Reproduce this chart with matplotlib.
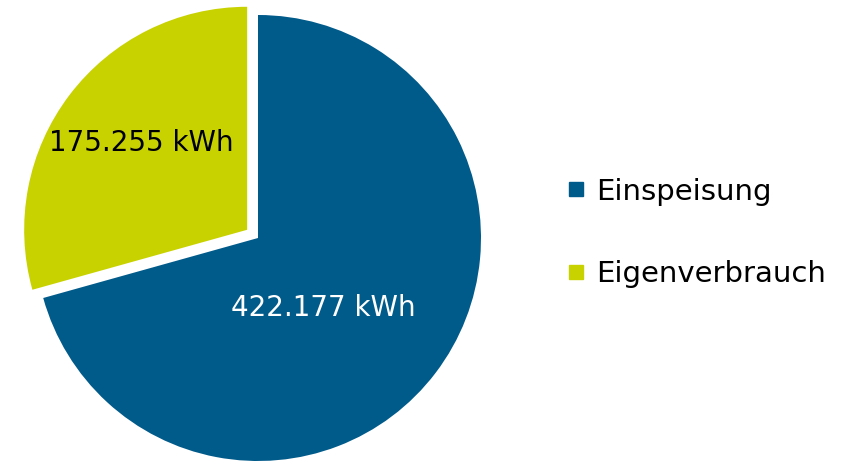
import matplotlib
matplotlib.use("Agg")
import matplotlib.pyplot as plt
from matplotlib.lines import Line2D

# --- Daten ---
labels = ["Einspeisung", "Eigenverbrauch"]
values = [422177, 175255]
colors = ["#005A8A", "#C8D200"]
text_colors = ["white", "black"]
explode = [0, 13.6]   # absolute Verschiebung (Pixel), da radius in Pixeln

plt.rcParams['font.family'] = ['DejaVu Sans']

W, H = 866, 461
fig = plt.figure(figsize=(W / 100, H / 100), dpi=100)
ax = fig.add_axes([0, 0, 1, 1])


def fmt_kwh(v):
    return f"{v:,.0f}".replace(",", ".") + " kWh"


wedges, _, autotexts = ax.pie(
    values, colors=colors, startangle=90, counterclock=False,
    explode=explode, radius=223, center=(258, 223), frame=True,
    autopct=lambda p: fmt_kwh(p * sum(values) / 100), pctdistance=0.62,
    wedgeprops=dict(linewidth=0),
    textprops=dict(fontsize=20))
for t, c in zip(autotexts, text_colors):
    t.set_color(c)
# Labels wie im Original platzieren
autotexts[0].set_position((323, H - 308))
autotexts[1].set_position((141, H - 143))

ax.set_xlim(0, W)
ax.set_ylim(0, H)
ax.set_aspect('equal')
ax.axis('off')

handles = [Line2D([], [], marker='s', linestyle='none', markersize=10,
                  markerfacecolor=c, markeredgecolor=c) for c in colors]
ax.legend(handles, labels, loc='center left', bbox_to_anchor=(0.655, 0.495),
          frameon=False, fontsize=21, labelspacing=1.87, handlelength=0.6,
          handletextpad=0.38, borderaxespad=0, borderpad=0)

fig.savefig("out.png", dpi=100)
